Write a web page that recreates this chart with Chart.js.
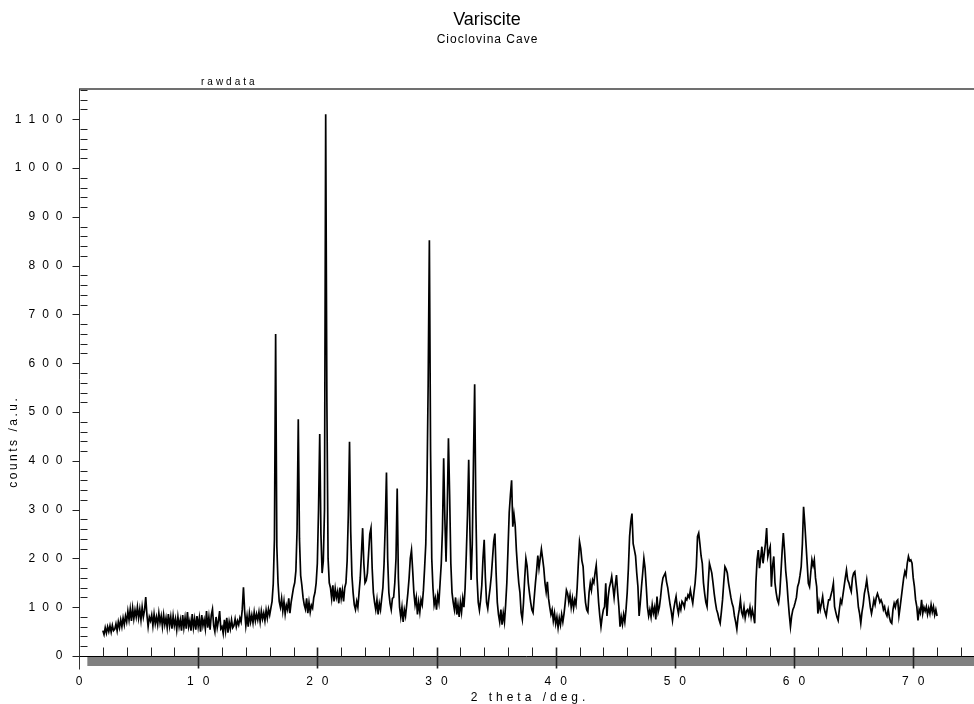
<!DOCTYPE html>
<html>
<head>
<meta charset="utf-8">
<title>Variscite - Cioclovina Cave</title>
<script src="https://cdn.jsdelivr.net/npm/chart.js@4.4.0/dist/chart.umd.min.js"></script>
<style>
  html, body { margin: 0; padding: 0; background: #fff; }
  #wrap { position: relative; width: 974px; height: 704px; }
</style>
</head>
<body>
<div id="wrap"><canvas id="xrd" width="974" height="704"></canvas></div>
<script>
// scan: 2 theta from 2.0 deg, one reading every 0.1 deg
const scanStart = 2.0;
const scanStep = 0.1;

// counts, one row per degree (x.0 ... x.9)
const counts02to15 = [
  52, 44, 58, 47, 60, 50, 62, 49, 63, 52,
  55, 66, 52, 70, 58, 74, 60, 78, 64, 82,
  70, 92, 74, 96, 72, 98, 76, 94, 80, 100,
  78, 96, 74, 100, 80, 94, 121, 84, 60, 80,
  72, 84, 62, 86, 66, 80, 64, 88, 68, 82,
  60, 84, 64, 78, 58, 86, 62, 80, 56, 82,
  62, 76, 54, 80, 60, 74, 52, 84, 58, 78,
  56, 90, 60, 72, 52, 86, 58, 76, 54, 82,
  60, 78, 50, 84, 62, 74, 56, 92, 58, 80,
  54, 84, 96, 62, 50, 80, 58, 72, 92, 56,
  60, 46, 74, 52, 78, 48, 70, 56, 74, 58,
  62, 76, 60, 72, 64, 78, 70, 96, 141, 92,
  62, 82, 60, 88, 70, 84, 68, 90, 72, 86,
  74, 90, 70, 92, 76, 88, 72, 94, 78, 96,
];
const counts16to29 = [
  84, 98, 112, 148, 240, 660, 225, 150, 112, 100,
  118, 92, 112, 86, 104, 95, 118, 88, 110, 125,
  140, 150, 175, 260, 485, 240, 165, 145, 120, 105,
  96, 118, 88, 110, 90, 104, 98, 120, 130, 150,
  190, 300, 455, 250, 170, 195, 300, 1110, 520, 200,
  150, 140, 118, 145, 112, 138, 120, 132, 108, 140,
  118, 135, 112, 140, 150, 195, 290, 439, 255, 165,
  130, 105, 95, 112, 100, 130, 160, 210, 262, 190,
  150, 155, 170, 210, 250, 262, 180, 130, 110, 95,
  115, 85, 108, 95, 118, 140, 190, 270, 376, 200,
  130, 108, 95, 118, 120, 150, 200, 343, 160, 100,
  80, 100, 70, 95, 82, 105, 130, 160, 200, 217,
  175, 130, 105, 120, 85, 110, 90, 115, 105, 135,
  180, 230, 350, 560, 852, 420, 200, 140, 105, 118,
];
const counts30to43 = [
  95, 125, 110, 150, 190, 260, 405, 280, 193, 300,
  446, 330, 190, 130, 110, 95, 120, 85, 105, 80,
  110, 90, 118, 100, 140, 210, 290, 402, 260, 156,
  230, 400, 557, 300, 160, 110, 94, 115, 145, 200,
  238, 160, 110, 97, 120, 140, 165, 200, 235, 251,
  170, 110, 85, 70, 95, 64, 88, 70, 105, 150,
  220, 294, 330, 360, 265, 290, 268, 217, 180, 150,
  130, 89, 75, 110, 160, 200, 185, 150, 129, 110,
  95, 89, 120, 150, 175, 206, 180, 200, 219, 200,
  180, 150, 131, 152, 118, 100, 85, 95, 72, 88,
  66, 80, 58, 78, 64, 85, 70, 87, 110, 135,
  128, 110, 125, 100, 118, 98, 115, 105, 140, 190,
  234, 220, 195, 183, 140, 110, 95, 90, 130, 149,
  135, 156, 150, 170, 186, 149, 110, 82, 60, 80,
];
const counts44to57 = [
  95, 101, 149, 82, 120, 140, 150, 163, 142, 120,
  145, 166, 130, 101, 60, 80, 65, 85, 70, 95,
  130, 180, 245, 275, 292, 230, 218, 205, 170, 142,
  82, 110, 142, 170, 200, 180, 142, 100, 82, 95,
  80, 105, 88, 100, 75, 122, 90, 100, 120, 145,
  160, 165, 170, 152, 140, 122, 105, 91, 73, 95,
  110, 122, 100, 87, 105, 95, 112, 108, 100, 118,
  115, 125, 120, 135, 120, 108, 130, 150, 183, 245,
  252, 230, 205, 190, 150, 128, 110, 101, 150, 190,
  180, 170, 150, 128, 110, 95, 87, 75, 67, 90,
  115, 150, 183, 178, 170, 150, 135, 120, 108, 100,
  82, 70, 55, 80, 95, 115, 90, 82, 100, 78,
  92, 95, 85, 100, 80, 95, 82, 67, 150, 197,
  217, 180, 200, 224, 190, 210, 230, 262, 204, 215,
];
const counts58to72 = [
  224, 142, 185, 204, 150, 130, 115, 108, 128, 170,
  215, 252, 217, 175, 150, 115, 85, 60, 82, 95,
  101, 110, 120, 142, 150, 165, 183, 230, 306, 272,
  231, 190, 149, 142, 170, 197, 185, 197, 160, 142,
  87, 110, 95, 108, 122, 100, 90, 82, 100, 115,
  115, 125, 135, 149, 101, 90, 80, 73, 95, 115,
  108, 125, 142, 160, 176, 156, 150, 140, 132, 160,
  170, 173, 150, 128, 100, 87, 67, 90, 105, 128,
  140, 156, 135, 120, 100, 87, 100, 115, 105, 120,
  128, 120, 110, 115, 108, 95, 101, 88, 82, 95,
  80, 70, 67, 95, 108, 100, 112, 115, 82, 100,
  120, 140, 160, 173, 165, 190, 204, 195, 197, 190,
  160, 142, 115, 101, 73, 95, 88, 115, 87, 100,
  92, 101, 85, 98, 87, 105, 90, 101, 84, 95,
  82,
];

const xTickLabels = ['0', '10', '20', '30', '40', '50', '60', '70'];
const yTickLabels = ['0', '100', '200', '300', '400', '500', '600', '700', '800', '900', '1000', '1100'];

const counts = [].concat(counts02to15, counts16to29, counts30to43, counts44to57, counts58to72);
const points = counts.map((c, i) => ({ x: +(scanStart + i * scanStep).toFixed(1), y: c }));

const FONT = '"Liberation Sans", Arial, sans-serif';

// draw text with extra space between letters (the old plot software does this)
function spacedText(ctx, text, x, y, spacing, align) {
  const chars = [...text];
  const widths = chars.map(ch => ctx.measureText(ch).width);
  const total = widths.reduce((a, b) => a + b, 0) + spacing * (chars.length - 1);
  let cx = align === 'right' ? x - total : align === 'center' ? x - total / 2 : x;
  ctx.textAlign = 'left';
  chars.forEach((ch, i) => {
    ctx.fillText(ch, cx, y);
    cx += widths[i] + spacing;
  });
}

function seg(ctx, x1, y1, x2, y2) {
  ctx.beginPath();
  ctx.moveTo(x1, y1);
  ctx.lineTo(x2, y2);
  ctx.stroke();
}

const axisDecor = {
  id: 'axisDecor',
  afterDraw(chart) {
    const { ctx, chartArea: area, scales: { x, y } } = chart;
    const y0 = Math.round(y.getPixelForValue(0)) + 0.5;
    const xl = Math.round(x.getPixelForValue(0)) + 0.5;
    ctx.save();

    // frame along the top
    ctx.strokeStyle = '#707070';
    ctx.lineWidth = 2;
    seg(ctx, xl - 0.5, area.top, area.right, area.top);

    // grey band under the axis
    const bandLeft = x.getPixelForValue(0.7);
    ctx.fillStyle = '#808080';
    ctx.fillRect(bandLeft, y0 + 0.5, area.right - bandLeft, 9);

    // axis lines
    ctx.strokeStyle = '#000';
    ctx.lineWidth = 1;
    seg(ctx, xl, y0, area.right, y0);
    ctx.strokeStyle = '#333';
    seg(ctx, xl, area.top, xl, y0 + 13);

    // y ticks: majors outside, minors inside
    ctx.strokeStyle = '#222';
    for (let v = 0; v <= 1160; v += 20) {
      const py = Math.round(y.getPixelForValue(v)) + 0.5;
      if (v % 100 === 0) seg(ctx, xl - 7, py, xl, py);
      else seg(ctx, xl + 1, py, xl + 8, py);
    }

    // x ticks: minors above the axis, majors cross the band
    for (let v = 2; v <= 74; v += 2) {
      const px = Math.round(x.getPixelForValue(v)) + 0.5;
      if (v % 10 === 0) {
        ctx.lineWidth = 1.6;
        seg(ctx, px, y0 - 9, px, y0 + 12);
      } else {
        ctx.lineWidth = 1;
        seg(ctx, px, y0 - 9, px, y0);
      }
    }

    // tick labels
    ctx.fillStyle = '#000';
    ctx.font = '12px ' + FONT;
    ctx.textBaseline = 'middle';
    yTickLabels.forEach(lbl => {
      spacedText(ctx, lbl, 62.5, y.getPixelForValue(+lbl), 7, 'right');
    });
    xTickLabels.forEach(lbl => {
      spacedText(ctx, lbl, x.getPixelForValue(+lbl), 682, 9, 'center');
    });

    // titles
    ctx.font = '18px ' + FONT;
    ctx.textAlign = 'center';
    ctx.fillText('Variscite', 487, 20);
    ctx.font = '12px ' + FONT;
    spacedText(ctx, 'Cioclovina Cave', 487, 40, 1.0, 'center');
    ctx.font = '10px ' + FONT;
    spacedText(ctx, 'rawdata', 201, 82, 3, 'left');

    // axis titles
    ctx.font = '12px ' + FONT;
    spacedText(ctx, '2 theta /deg.', 528, 698, 4, 'center');
    ctx.save();
    ctx.translate(14, 443);
    ctx.rotate(-Math.PI / 2);
    ctx.font = '12px ' + FONT;
    spacedText(ctx, 'counts /a.u.', 0, 0, 2.5, 'center');
    ctx.restore();

    ctx.restore();
  }
};

new Chart(document.getElementById('xrd'), {
  type: 'line',
  data: {
    datasets: [{
      label: 'rawdata',
      data: points,
      borderColor: '#000',
      borderWidth: 1.7,
      pointRadius: 0,
      tension: 0,
      fill: false,
    }],
  },
  options: {
    responsive: false,
    animation: false,
    layout: { padding: { left: 79, right: 0, top: 89, bottom: 48 } },
    scales: {
      x: { type: 'linear', min: 0, max: 75.1, display: false },
      y: { type: 'linear', min: 0, max: 1162, display: false },
    },
    plugins: {
      legend: { display: false },
      tooltip: { enabled: false },
    },
  },
  plugins: [axisDecor],
});
</script>
</body>
</html>
